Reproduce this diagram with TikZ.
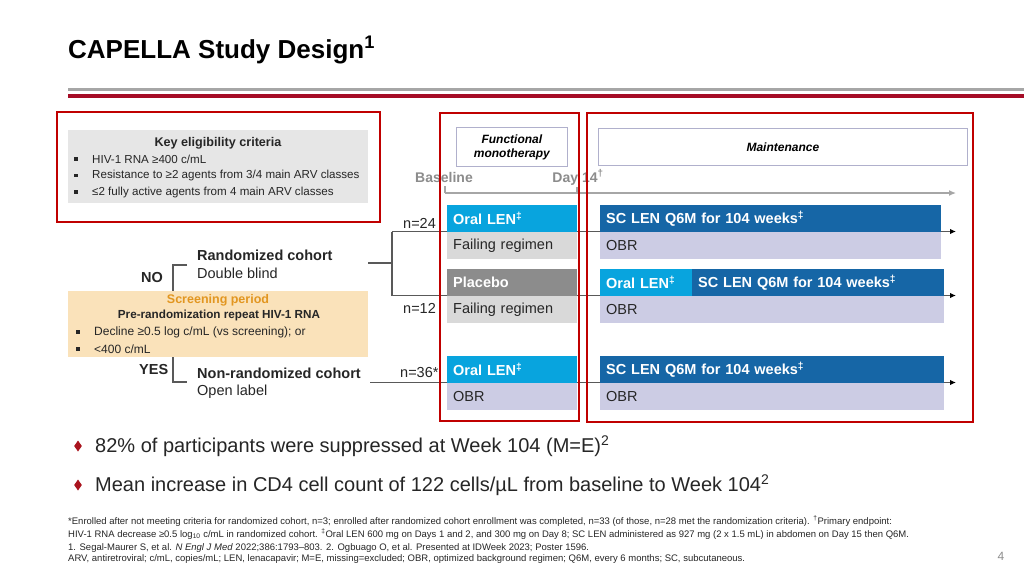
\documentclass[tikz,border=0pt]{standalone}
\usepackage{fontspec}
\setmainfont{Liberation Sans}
\usetikzlibrary{arrows.meta}
\pgfdeclarelayer{back}
\pgfdeclarelayer{bg}
\pgfsetlayers{back,bg,main}
\definecolor{txt}{RGB}{38,38,38}
\definecolor{redbox}{RGB}{192,0,0}
\definecolor{titlered}{RGB}{165,12,38}
\definecolor{titlegray}{RGB}{166,166,166}
\definecolor{lblue}{RGB}{8,164,222}
\definecolor{dblue}{RGB}{22,102,166}
\definecolor{lav}{RGB}{204,204,228}
\definecolor{lgray}{RGB}{217,217,217}
\definecolor{pgray}{RGB}{140,140,140}
\definecolor{keygray}{RGB}{230,230,230}
\definecolor{scrfill}{RGB}{250,226,186}
\definecolor{scrtext}{RGB}{226,150,32}
\definecolor{tlgray}{RGB}{166,166,166}
\definecolor{conngray}{RGB}{89,89,89}
\definecolor{phbord}{RGB}{176,176,204}
\definecolor{dmd}{RGB}{170,20,30}
\newcommand{\fsz}[1]{\fontsize{#1}{#1}\selectfont}
\begin{document}
\begin{tikzpicture}[x=1pt,y=-1pt,
  lbl/.style={inner sep=0pt, anchor=west, text=txt},
  barbox/.style={anchor=north west, inner xsep=6pt, inner ysep=0pt, align=left, font=\fsz{14.5}},
  topbar/.style={barbox, minimum height=27pt, text=white, font=\bfseries\fsz{14.5}},
  botbar/.style={barbox, minimum height=26.5pt, text=txt},
  redframe/.style={draw=redbox, line width=2pt},
  phase/.style={draw=phbord, line width=0.8pt, fill=white, inner sep=0pt, font=\bfseries\itshape\fsz{12}, align=center, text=black},
  conn/.style={draw=conngray, line width=1.3pt},
  arr/.style={conn, -{Latex[length=6pt,width=5.5pt,color=black]}},
  sq/.style={fill=txt, minimum size=3.5pt, inner sep=0pt},
  fnote/.style={anchor=base west, inner sep=0pt, text=txt, font=\fsz{9.5}}
]
\begin{pgfonlayer}{back}
\fill[white] (0,0) rectangle (1024,576);
\end{pgfonlayer}
\useasboundingbox (0,0) rectangle (1024,576);

% title
\node[anchor=base west, inner sep=0pt, font=\bfseries\fsz{26}, text=black] (title) at (68,58) {CAPELLA Study Design\textsuperscript{1}};
\draw[titlegray, line width=3.3pt] (68,89.5) -- (1024,89.5);
\draw[titlered, line width=4.3pt] (68,96) -- (1024,96);

% key eligibility box
\node[fill=keygray, anchor=north west, minimum width=300pt, minimum height=73pt, inner sep=0pt] (keybox) at (68,130) {};
\node[inner sep=0pt, text=txt, font=\bfseries\fsz{12.6}] (keyt) at (218,143) {Key eligibility criteria};
\node[lbl, font=\fsz{11.6}] (k1) at (92,159) {HIV-1 RNA ≥400 c/mL};
\node[lbl, font=\fsz{11.6}] (k2) at (92,175.5) {Resistance to ≥2 agents from 3/4 main ARV classes};
\node[lbl, font=\fsz{11.6}] (k3) at (92,192) {≤2 fully active agents from 4 main ARV classes};
\node[sq] (kb1) at (76,159) {};
\node[sq] (kb2) at (76,175.5) {};
\node[sq] (kb3) at (76,192) {};

% screening box
\node[fill=scrfill, anchor=north west, minimum width=300pt, minimum height=66pt, inner sep=0pt] (scr) at (68,291) {};
\node[inner sep=0pt, text=scrtext, font=\bfseries\fsz{12.5}] (scrt) at (218,300) {Screening period};
\node[inner sep=0pt, text=txt, font=\bfseries\fsz{11.7}] (scr2) at (219,315) {Pre-randomization repeat HIV-1 RNA};
\node[lbl, font=\fsz{12}] (s1) at (94,332) {Decline ≥0.5 log c/mL (vs screening); or};
\node[lbl, font=\fsz{12}] (s2) at (94,349) {<400 c/mL};
\node[sq] (sb1) at (78,332) {};
\node[sq] (sb2) at (78,349) {};

% cohorts
\node[lbl, font=\bfseries\fsz{14.5}] (rand) at (197,255) {Randomized cohort};
\node[lbl, font=\fsz{14.5}] (db) at (197,273) {Double blind};
\node[lbl, font=\bfseries\fsz{14.5}] (no) at (141,278) {NO};
\node[lbl, font=\bfseries\fsz{14.5}] (nonrand) at (197,373.5) {Non-randomized cohort};
\node[lbl, font=\fsz{14.5}] (ol) at (197,392) {Open label};
\node[lbl, font=\bfseries\fsz{14.5}] (yes) at (139,370) {YES};

% n labels
\node[lbl, font=\fsz{14.5}] (n24) at (403,223) {n=24};
\node[lbl, font=\fsz{14.5}] (n12) at (403,308) {n=12};
\node[lbl, font=\fsz{14.5}] (n36) at (400,373) {n=36*};

% phase headers
\node[phase, anchor=north west, minimum width=111pt, minimum height=39pt] (fm) at (456,127) {Functional\\[2pt]monotherapy};
\node[phase, anchor=north west, minimum width=369pt, minimum height=37pt] (mt) at (598,128) {Maintenance};

% timeline
\node[inner sep=0pt, text=pgray, font=\bfseries\fsz{14}] (bl) at (444,177.5) {Baseline};
\node[inner sep=0pt, text=pgray, font=\bfseries\fsz{14}] (d14) at (578,177.5) {Day 14\textsuperscript{†}};
\coordinate (t0) at (445,193);
\coordinate (t14) at (577,193);
\coordinate (tend) at (956,193);
\draw[tlgray, line width=1.3pt] (445,186) -- (t0);
\draw[tlgray, line width=1.3pt] (577,187) -- (t14);
\draw[tlgray, line width=1.3pt, -{Latex[length=7pt,width=6pt]}] (t0) -- (tend);

% bars row 1
\node[topbar, fill=lblue, text width=118pt] (r1oral) at (447,205) {Oral LEN\textsuperscript{‡}};
\node[botbar, fill=lgray, text width=118pt] (r1fail) at (447,232) {Failing regimen};
\node[topbar, fill=dblue, text width=329pt] (r1sc) at (600,205) {SC LEN Q6M for 104 weeks\textsuperscript{‡}};
\node[botbar, fill=lav, text width=329pt] (r1obr) at (600,232) {OBR};
% row 2
\node[topbar, fill=pgray, text width=118pt] (r2plac) at (447,269) {Placebo};
\node[botbar, fill=lgray, text width=118pt] (r2fail) at (447,296) {Failing regimen};
\node[topbar, fill=lblue, text width=80pt] (r2oral) at (600,269) {Oral LEN\textsuperscript{‡}};
\node[topbar, fill=dblue, text width=240pt] (r2sc) at (692,269) {SC LEN Q6M for 104 weeks\textsuperscript{‡}};
\node[botbar, fill=lav, text width=332pt] (r2obr) at (600,296) {OBR};
% row 3
\node[topbar, fill=lblue, text width=118pt] (r3oral) at (447,356) {Oral LEN\textsuperscript{‡}};
\node[botbar, fill=lav, text width=118pt] (r3obr1) at (447,383) {OBR};
\node[topbar, fill=dblue, text width=332pt] (r3sc) at (600,356) {SC LEN Q6M for 104 weeks\textsuperscript{‡}};
\node[botbar, fill=lav, text width=332pt] (r3obr) at (600,383) {OBR};

% connectors (behind the bars)
\coordinate (rnd) at (368,263);
\coordinate (split) at (392,263);
\coordinate (b1) at (392,231.5);
\coordinate (b2) at (392,295.5);
\coordinate (e1) at (956,231.5);
\coordinate (e2) at (956,295.5);
\coordinate (nr) at (370,382.5);
\coordinate (e3) at (956,382.5);
\coordinate (brA) at (187,265);
\coordinate (brB) at (173,265);
\coordinate (brC) at (173,382);
\coordinate (brD) at (187,382);
\begin{pgfonlayer}{bg}
\draw[conn] (rnd) -- (split);
\draw[conn] (b1) -- (b2);
\draw[arr] (b1) -- (e1);
\draw[arr] (b2) -- (e2);
\draw[arr] (nr) -- (e3);
\draw[conn] (brA) -- (brB) -- (brB |- scr.north);
\draw[conn] (brC |- scr.south) -- (brC) -- (brD);
\end{pgfonlayer}

% red frames
\draw[redframe] (57,112) rectangle (380,222);
\draw[redframe] (440,113) rectangle (579,421);
\draw[redframe] (587,113) rectangle (973,422);

% bottom bullets
\fill[dmd] (78,440.5) -- (81.8,446) -- (78,451.5) -- (74.2,446) -- cycle;
\fill[dmd] (78,479.5) -- (81.8,485) -- (78,490.5) -- (74.2,485) -- cycle;
\node[lbl, font=\fsz{20}] (bul1) at (95,446) {82\% of participants were suppressed at Week 104 (M=E)\textsuperscript{2}};
\node[lbl, font=\fsz{20}] (bul2) at (95,485) {Mean increase in CD4 cell count of 122 cells/µL from baseline to Week 104\textsuperscript{2}};

% footnotes
\node[fnote] (fn1) at (68,524) {*Enrolled after not meeting criteria for randomized cohort, n=3; enrolled after randomized cohort enrollment was completed, n=33 (of those, n=28 met the randomization criteria). \textsuperscript{†}Primary endpoint:};
\node[fnote] (fn2) at (68,537) {HIV-1 RNA decrease ≥0.5 log\textsubscript{10} c/mL in randomized cohort. \textsuperscript{‡}Oral LEN 600 mg on Days 1 and 2, and 300 mg on Day 8; SC LEN administered as 927 mg (2 x 1.5 mL) in abdomen on Day 15 then Q6M.};
\node[fnote] (fn3) at (68,550) {1. Segal-Maurer S, et al. \textit{N Engl J Med} 2022;386:1793–803. 2. Ogbuago O, et al. Presented at IDWeek 2023; Poster 1596.};
\node[fnote] (fn4) at (68,561.5) {ARV, antiretroviral; c/mL, copies/mL; LEN, lenacapavir; M=E, missing=excluded; OBR, optimized background regimen; Q6M, every 6 months; SC, subcutaneous.};
\node[inner sep=0pt, text=pgray, font=\fsz{12}] (pg) at (1001,556) {4};
\end{tikzpicture}
\end{document}
